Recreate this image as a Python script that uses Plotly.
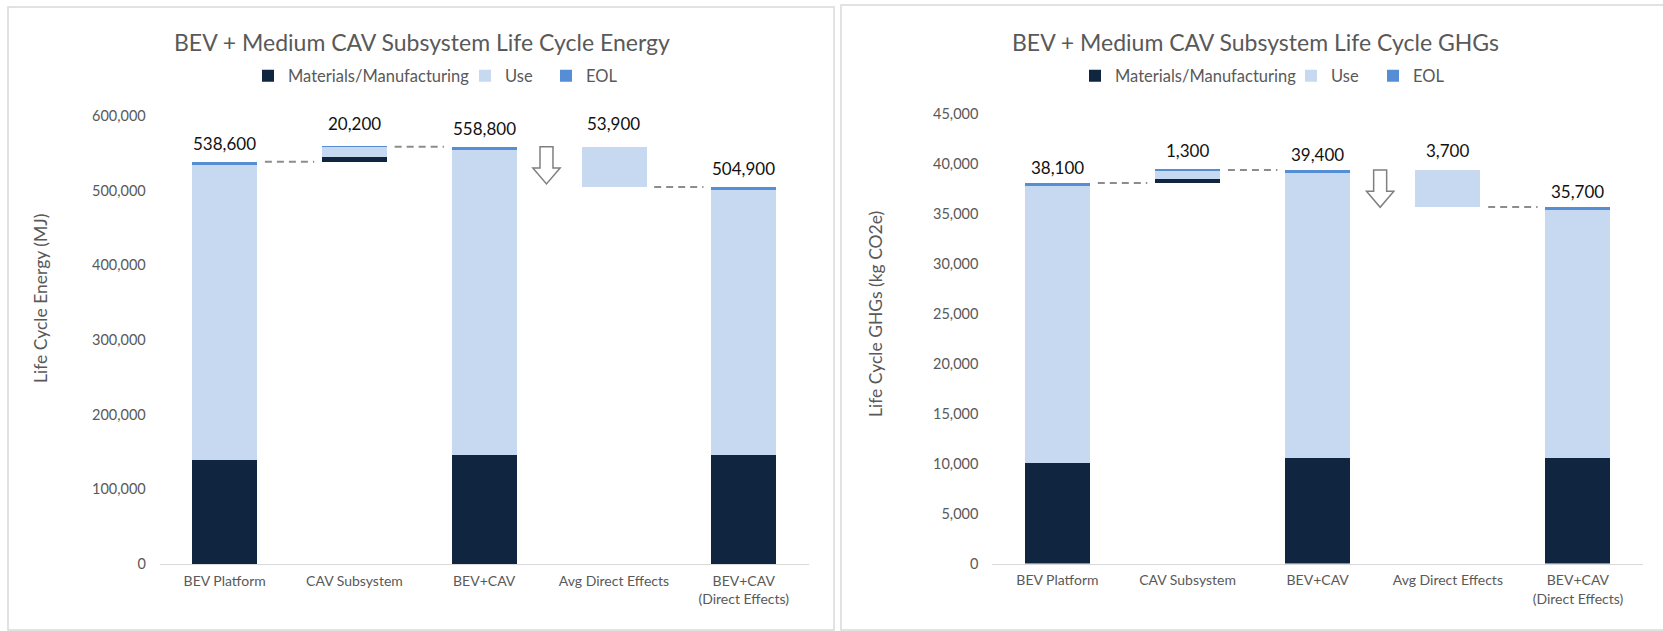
import plotly.graph_objects as go

W, H = 1663, 631

categories = ["BEV Platform", "CAV Subsystem", "BEV+CAV", "Avg Direct Effects",
              "BEV+CAV<br>(Direct Effects)"]
stages = ["Materials/Manufacturing", "Use", "EOL"]

# Life cycle energy (MJ) by stage
energy_materials = [139300, 7100, 146400, 0, 146400]
energy_use = [395000, 12800, 407800, 53900, 353900]
energy_eol = [4300, 300, 4600, 0, 4600]

# Life cycle GHGs (kg CO2e) by stage
ghg_materials = [10100, 430, 10530, 0, 10530]
ghg_use = [27730, 800, 28530, 3700, 24830]
ghg_eol = [270, 70, 340, 0, 340]

energy_ticks = [0, 100000, 200000, 300000, 400000, 500000, 600000]
ghg_ticks = [0, 5000, 10000, 15000, 20000, 25000, 30000, 35000, 40000, 45000]

C_MAT = "#10253F"
C_USE = "#C6D9F1"
C_EOL = "#558ED5"
GRAY_TXT = "#595959"
FONT = "Lato"


def px_x(p):
    return p / W


def px_y(p):
    return 1 - p / H


fig = go.Figure()


def add_panel(mat, use, eol, xa, ya, legend_ids):
    totals = [m + u + e for m, u, e in zip(mat, use, eol)]
    # floating bars: CAV sits on the platform total, the direct-effect delta
    # hangs down from the combined total
    base = [0, totals[0], 0, totals[2] - totals[3], 0]
    xs = list(range(len(categories)))
    b_mat = base
    b_use = [b + m for b, m in zip(base, mat)]
    b_eol = [b + u for b, u in zip(b_use, use)]
    for name, vals, b, col, leg in zip(stages, (mat, use, eol),
                                       (b_mat, b_use, b_eol),
                                       (C_MAT, C_USE, C_EOL), legend_ids):
        fig.add_trace(go.Bar(
            x=xs, y=vals, base=b, name=name, width=0.5,
            marker=dict(color=col, line=dict(width=0)),
            xaxis=xa, yaxis=ya, legend=leg, showlegend=True,
            hovertemplate=name + ": %{y:,}<extra></extra>"))
    return totals, base


def decorate(totals, base, xref, yref, ymax, shift, float_shift):
    tops = [b + t for b, t in zip(base, totals)]
    for i, (t, top) in enumerate(zip(totals, tops)):
        fig.add_annotation(
            x=i, y=top, xref=xref, yref=yref, text=f"{t:,}",
            showarrow=False, yanchor="bottom",
            yshift=float_shift if base[i] > 0 else shift,
            font=dict(family=FONT, size=17, color="#111111"))
    # dashed connector lines between neighbouring bars
    for i, lvl in ((0, tops[0]), (1, tops[1]), (3, tops[4])):
        fig.add_shape(type="line", xref=xref, yref=yref,
                      x0=i + 0.31, x1=i + 0.69, y0=lvl, y1=lvl,
                      line=dict(color="#8C8C8C", width=2, dash="7px,5px"))
    # hollow down arrow marking the reduction
    xc = 2.48
    h = ymax * 0.083
    top = tops[2]
    shaft_b = top - 0.57 * h
    tip = top - h
    hw, sw = 0.105, 0.05
    path = (f"M{xc - sw},{top} L{xc + sw},{top} L{xc + sw},{shaft_b} "
            f"L{xc + hw},{shaft_b} L{xc},{tip} L{xc - hw},{shaft_b} "
            f"L{xc - sw},{shaft_b} Z")
    fig.add_shape(type="path", path=path, xref=xref, yref=yref,
                  fillcolor="white", line=dict(color="#7F7F7F", width=1.5))


t1, b1 = add_panel(energy_materials, energy_use, energy_eol, "x", "y",
                   ("legend", "legend3", "legend4"))
t2, b2 = add_panel(ghg_materials, ghg_use, ghg_eol, "x2", "y2",
                   ("legend2", "legend5", "legend6"))
decorate(t1, b1, "x", "y", energy_ticks[-1], 6, 11)
decorate(t2, b2, "x2", "y2", ghg_ticks[-1], 3, 7)

xaxis_common = dict(
    range=[-0.5, 4.5], tickmode="array", tickvals=list(range(len(categories))),
    ticktext=categories, showgrid=False, zeroline=False, showline=True,
    linecolor="#D9D9D9", linewidth=1, ticks="", fixedrange=True, automargin=False,
    ticklabelstandoff=4,
    tickfont=dict(family=FONT, size=14, color=GRAY_TXT))
yaxis_common = dict(
    showgrid=False, zeroline=False, showline=False, ticks="", automargin=False,
    tickformat=",", tickfont=dict(family=FONT, size=14.5, color=GRAY_TXT),
    ticklabelstandoff=13)


def legend_at(x_px):
    # one legend box per stage so each entry sits at its own spot
    return dict(orientation="h", x=px_x(x_px), y=px_y(76), xanchor="left",
                yanchor="middle", font=dict(family=FONT, size=16.5, color=GRAY_TXT),
                itemwidth=30, bgcolor="rgba(0,0,0,0)")


fig.update_layout(
    width=W, height=H, margin=dict(l=0, r=0, t=0, b=0, pad=0, autoexpand=False),
    paper_bgcolor="white", plot_bgcolor="white",
    barmode="overlay", bargap=0,
    xaxis=dict(domain=[px_x(159.8), px_x(808.6)], anchor="y", **xaxis_common),
    yaxis=dict(domain=[px_y(564), px_y(116)], anchor="x",
               range=[0, energy_ticks[-1]], tickvals=energy_ticks, **yaxis_common),
    xaxis2=dict(domain=[px_x(992.4), px_x(1643)], anchor="y2", **xaxis_common),
    yaxis2=dict(domain=[px_y(563.5), px_y(114)], anchor="x2",
                range=[0, ghg_ticks[-1]], tickvals=ghg_ticks, **yaxis_common),
    legend=legend_at(248), legend3=legend_at(465), legend4=legend_at(546),
    legend2=legend_at(1075), legend5=legend_at(1291), legend6=legend_at(1373),
)

# panel titles and axis titles
for xc, txt in ((422, "BEV + Medium CAV Subsystem Life Cycle Energy"),
                (1255, "BEV + Medium CAV Subsystem Life Cycle GHGs")):
    fig.add_annotation(x=px_x(xc), y=px_y(42), xref="paper", yref="paper",
                       text=txt, showarrow=False, xanchor="center", yanchor="middle",
                       font=dict(family=FONT, size=23, color=GRAY_TXT))
for xc, yc, txt in ((40, 299, "Life Cycle Energy (MJ)"),
                    (875, 314, "Life Cycle GHGs (kg CO2e)")):
    fig.add_annotation(x=px_x(xc), y=px_y(yc), xref="paper", yref="paper",
                       text=txt, textangle=-90, showarrow=False,
                       xanchor="center", yanchor="middle",
                       font=dict(family=FONT, size=17.5, color=GRAY_TXT))

# chart-area borders
for x0, x1, y0 in ((8, 834, 7), (841, 1670, 5)):
    fig.add_shape(type="rect", xref="paper", yref="paper",
                  x0=px_x(x0), x1=px_x(x1), y0=px_y(630), y1=px_y(y0),
                  line=dict(color="#D9D9D9", width=1.5), fillcolor="rgba(0,0,0,0)",
                  layer="below")

fig.write_html("out.html")
